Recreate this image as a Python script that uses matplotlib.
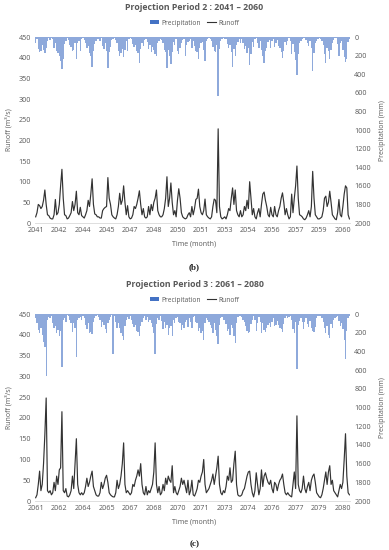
import matplotlib
matplotlib.use("Agg")
import matplotlib.pyplot as plt
from matplotlib.patches import Patch
from matplotlib.lines import Line2D
import numpy as np

plt.rcParams['font.family'] = ['Open Sans', 'DejaVu Sans']

# ---------------- data ----------------
start_years = [2041, 2061]
titles = ["Projection Period 2 : 2041 \u2013 2060", "Projection Period 3 : 2061 \u2013 2080"]
captions = ["b", "c"]

runoff_b = [
    15, 25, 45, 42, 35, 40, 55, 80, 45, 20, 18, 12,
    10, 10, 20, 57, 20, 25, 45, 90, 130, 60, 20, 18,
    10, 12, 18, 25, 52, 30, 45, 77, 25, 20, 38, 18,
    15, 12, 20, 30, 55, 40, 70, 107, 45, 22, 20, 15,
    15, 12, 12, 30, 35, 38, 40, 110, 60, 45, 20, 15,
    12, 10, 20, 40, 72, 45, 55, 90, 50, 20, 42, 15,
    10, 12, 20, 40, 35, 45, 60, 78, 45, 20, 35, 15,
    12, 15, 40, 20, 45, 30, 50, 60, 80, 30, 20, 15,
    15, 20, 35, 60, 112, 40, 60, 97, 50, 20, 30, 15,
    55, 83, 60, 25, 15, 12, 10, 12, 20, 25, 15, 40,
    20, 35, 57, 60, 82, 40, 25, 20, 30, 58, 20, 15,
    12, 10, 15, 40, 58, 55, 25, 228, 40, 15, 10, 12,
    15, 10, 20, 35, 30, 60, 85, 45, 80, 30, 20, 15,
    30, 15, 20, 40, 30, 55, 35, 100, 60, 20, 35, 15,
    10, 25, 35, 15, 45, 70, 75, 55, 40, 20, 15, 38,
    20, 15, 40, 20, 15, 30, 40, 60, 73, 50, 20, 35,
    20, 10, 15, 70, 25, 60, 90, 138, 60, 20, 18, 15,
    10, 8, 12, 20, 30, 15, 40, 125, 60, 20, 15, 10,
    10, 12, 15, 30, 60, 65, 40, 50, 77, 50, 20, 15,
    10, 8, 25, 57, 20, 15, 40, 70, 90, 85, 20, 10,
]

precip_b = [
    60, 20, 130, 160, 150, 90, 140, 170, 120, 40, 10, 30,
    5, 20, 120, 60, 150, 170, 200, 260, 340, 230, 70, 40,
    10, 30, 90, 110, 150, 140, 60, 230, 60, 40, 150, 20,
    10, 30, 60, 120, 100, 170, 200, 320, 150, 70, 40, 20,
    20, 40, 10, 100, 130, 60, 150, 330, 160, 110, 30, 20,
    10, 30, 60, 150, 200, 170, 130, 210, 140, 40, 150, 20,
    10, 20, 70, 110, 90, 150, 170, 280, 130, 60, 100, 30,
    20, 50, 130, 80, 160, 110, 140, 180, 200, 60, 40, 20,
    30, 60, 140, 160, 330, 140, 200, 290, 160, 50, 90, 20,
    150, 180, 120, 60, 30, 20, 200, 80, 50, 40, 20, 120,
    40, 100, 150, 160, 230, 120, 60, 50, 140, 260, 40, 20,
    10, 20, 40, 110, 150, 160, 80, 630, 130, 40, 20, 10,
    20, 20, 70, 120, 90, 160, 320, 130, 200, 90, 50, 20,
    60, 20, 60, 130, 100, 170, 120, 300, 180, 50, 110, 20,
    10, 60, 120, 40, 140, 200, 280, 150, 120, 50, 30, 120,
    40, 20, 110, 60, 30, 100, 120, 160, 220, 150, 50, 90,
    40, 10, 40, 180, 70, 160, 250, 410, 180, 60, 40, 20,
    10, 10, 30, 60, 100, 40, 120, 360, 170, 60, 40, 20,
    10, 20, 40, 90, 180, 280, 120, 150, 240, 140, 60, 30,
    10, 10, 70, 200, 60, 40, 140, 210, 270, 240, 50, 20,
]

runoff_c = [
    8, 15, 40, 72, 25, 40, 90, 160, 248, 25, 20, 25,
    15, 20, 45, 25, 60, 40, 75, 80, 215, 25, 20, 30,
    12, 10, 15, 25, 60, 30, 90, 150, 40, 20, 15, 20,
    15, 20, 35, 55, 35, 45, 60, 72, 35, 25, 15, 12,
    12, 20, 45, 30, 40, 55, 62, 45, 20, 15, 12, 10,
    10, 20, 50, 30, 40, 60, 90, 140, 40, 20, 25, 20,
    15, 20, 40, 35, 50, 60, 75, 60, 90, 40, 20, 15,
    35, 15, 25, 20, 30, 40, 70, 140, 40, 20, 35, 15,
    20, 40, 25, 55, 40, 60, 50, 45, 85, 20, 35, 20,
    15, 25, 35, 55, 40, 50, 35, 20, 50, 15, 25, 50,
    15, 12, 20, 30, 50, 45, 60, 70, 100, 40, 20, 25,
    30, 40, 50, 65, 40, 60, 80, 108, 40, 20, 15, 25,
    20, 35, 60, 50, 80, 45, 50, 90, 120, 40, 15, 12,
    12, 15, 25, 30, 45, 60, 70, 72, 40, 20, 10, 25,
    68, 40, 15, 30, 75, 35, 60, 68, 55, 45, 40, 50,
    30, 20, 45, 40, 25, 40, 50, 55, 65, 40, 20, 15,
    20, 15, 12, 10, 40, 70, 30, 205, 40, 25, 20, 30,
    60, 30, 20, 35, 45, 25, 50, 60, 65, 45, 20, 15,
    10, 8, 15, 30, 50, 70, 40, 70, 85, 40, 50, 25,
    20, 15, 10, 25, 40, 30, 45, 100, 162, 60, 20, 15,
]

precip_c = [
    40, 100, 170, 200, 150, 220, 300, 350, 660, 60, 30, 40,
    20, 100, 150, 130, 200, 170, 230, 180, 570, 60, 40, 80,
    10, 20, 60, 100, 190, 100, 150, 460, 60, 40, 30, 60,
    20, 40, 120, 160, 100, 200, 190, 210, 80, 40, 20, 10,
    30, 60, 140, 90, 120, 160, 200, 100, 60, 30, 10, 425,
    20, 80, 150, 100, 150, 200, 230, 280, 130, 60, 30, 50,
    20, 60, 110, 140, 120, 180, 190, 230, 130, 80, 40, 20,
    60, 30, 80, 60, 100, 140, 200, 430, 110, 40, 60, 20,
    70, 160, 90, 150, 120, 220, 150, 130, 240, 60, 100, 40,
    30, 80, 100, 170, 120, 150, 90, 60, 140, 40, 80, 150,
    30, 20, 80, 100, 180, 150, 200, 180, 280, 100, 40, 60,
    80, 120, 150, 200, 100, 170, 230, 320, 120, 40, 30, 60,
    60, 110, 180, 160, 220, 120, 150, 240, 310, 100, 30, 20,
    20, 30, 60, 80, 130, 180, 200, 190, 110, 60, 20, 60,
    180, 100, 30, 90, 200, 100, 170, 190, 150, 120, 100, 140,
    80, 40, 130, 120, 70, 120, 150, 160, 190, 110, 40, 20,
    40, 30, 20, 60, 160, 200, 90, 590, 120, 70, 40, 80,
    160, 80, 40, 110, 140, 70, 150, 180, 190, 140, 40, 20,
    20, 20, 40, 90, 150, 200, 130, 220, 260, 110, 150, 60,
    40, 30, 20, 70, 130, 100, 160, 280, 480, 180, 40, 20,
]

runoffs = [runoff_b, runoff_c]
precips = [precip_b, precip_c]

# ---------------- style ----------------
GRAY = '#595959'
BAR = '#8EA9DB'
BAR_LEG = '#4472C4'
LINE = '#333333'

fig = plt.figure(figsize=(3.89, 5.5), dpi=100)

ax_pos = [(0.09, 0.5945, 0.81, 0.338), (0.09, 0.089, 0.81, 0.340)]
title_y = [0.987, 0.482]
legend_y = [0.958, 0.4545]
xlabel_y = [0.556, 0.051]
cap_y = [0.514, 0.011]

for k in range(2):
    r = runoffs[k]
    p = precips[k]
    x = np.arange(len(r))
    ax = fig.add_axes(ax_pos[k])
    ax2 = ax.twinx()
    ax2.bar(x, p, width=1.0, color=BAR, edgecolor='none', linewidth=0)
    ax2.set_ylim(2000, 0)
    ax2.set_yticks(np.arange(0, 2001, 200))
    ax.set_zorder(ax2.get_zorder() + 1)
    ax.patch.set_visible(False)
    ax.plot(x, r, color=LINE, lw=0.85)
    ax.set_ylim(0, 450)
    ax.set_yticks(np.arange(0, 451, 50))
    ax.set_xlim(-0.5, len(r) - 0.5)
    tick_pos = np.arange(0, len(r), 18)
    ax.set_xticks(tick_pos)
    ax.set_xticklabels([str(start_years[k] + t // 12) for t in tick_pos])
    for a in (ax, ax2):
        for s in a.spines.values():
            s.set_visible(False)
        a.tick_params(length=0, labelsize=5.2, colors=GRAY, pad=3)
    ax.spines['bottom'].set_visible(True)
    ax.spines['bottom'].set_color('#D9D9D9')
    ax.spines['bottom'].set_linewidth(0.6)
    ax.set_ylabel("Runoff (m\u00b3/s)", fontsize=5, color=GRAY, labelpad=4)
    ax2.set_ylabel("Precipitation (mm)", fontsize=5, color=GRAY, labelpad=6)
    fig.text(0.5, xlabel_y[k], "Time (month)", ha='center', va='center',
             fontsize=5, color=GRAY)
    fig.text(0.5, title_y[k], titles[k], ha='center', va='center',
             fontsize=6.3, fontweight='bold', color=GRAY)
    handles = [Patch(facecolor=BAR_LEG, edgecolor='none'),
               Line2D([0], [0], color=LINE, lw=0.8)]
    fig.legend(handles, ["Precipitation", "Runoff"], loc='center',
               bbox_to_anchor=(0.5, legend_y[k]), ncol=2, frameon=False,
               fontsize=4.8, labelcolor=GRAY, handlelength=1.4, handleheight=0.6,
               columnspacing=1.0, handletextpad=0.3)
    fig.text(0.5, cap_y[k], "(" + captions[k] + ")", ha='center', va='center',
             fontsize=6.5, fontweight='bold', family='Liberation Serif', color='#222222')

fig.savefig("out.png", dpi=100)
